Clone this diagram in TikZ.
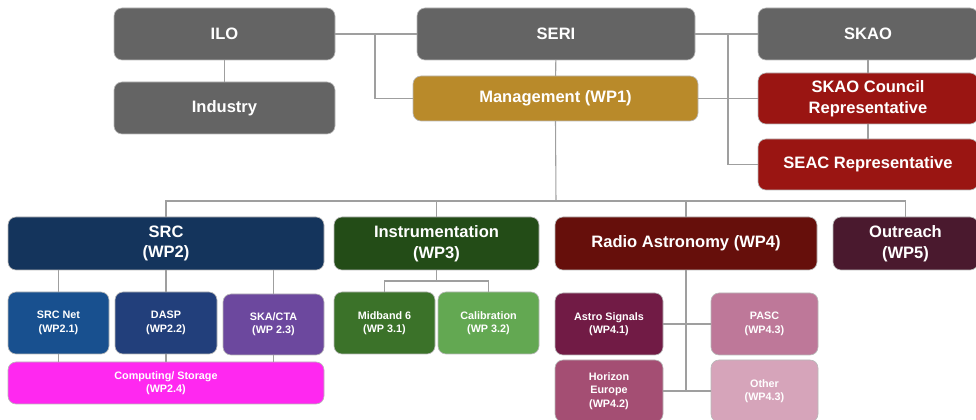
\documentclass[tikz,border=0pt]{standalone}
\usepackage{fontspec}
\setmainfont{Liberation Sans}
\usetikzlibrary{positioning, calc}

\definecolor{orggrey}{HTML}{646464}
\definecolor{mgmtgold}{HTML}{B98A2A}
\definecolor{skared}{HTML}{9A1512}
\definecolor{srcblue}{HTML}{14345C}
\definecolor{instgreen}{HTML}{234C17}
\definecolor{radiored}{HTML}{660F0B}
\definecolor{outrplum}{HTML}{4A192E}
\definecolor{netblue}{HTML}{18508F}
\definecolor{daspblue}{HTML}{223F7B}
\definecolor{ctaviolet}{HTML}{6C489E}
\definecolor{compmag}{HTML}{FF28F0}
\definecolor{midgreen}{HTML}{3B7229}
\definecolor{calgreen}{HTML}{63A852}
\definecolor{astroplum}{HTML}{711B45}
\definecolor{pascpink}{HTML}{BE7899}
\definecolor{horizpink}{HTML}{A44E73}
\definecolor{otherpink}{HTML}{D6A4BA}

\begin{document}
\begin{tikzpicture}[
  x=0.75pt, y=-0.75pt,
  box/.style   = {draw=gray!55, line width=0.5pt, rectangle,
                  rounded corners=6pt, outer sep=0pt, inner sep=2pt,
                  align=center, text=white},
  head/.style  = {box, font=\fontsize{12.4}{15.5}\selectfont\bfseries},
  sub/.style   = {box, font=\fontsize{8.1}{10}\selectfont\bfseries},
  wh/.style 2 args = {minimum width=#1*0.75pt, minimum height=#2*0.75pt},
  link/.style  = {draw=gray!75, line width=0.8pt},
]
\clip (0,0) rectangle (976,420);

%── Top level ─────────────────────────────────────────────────────────────
\node[head, fill=orggrey, wh={221}{52}]   (ilo)     at (224.5,34)  {ILO};
\node[head, fill=orggrey, wh={221}{52}]   (ind)     at (224.5,108) {Industry};
\node[head, fill=orggrey, wh={278}{52}]   (seri)    at (556,34)    {SERI};
\node[head, fill=orggrey, wh={220}{52}]   (skao)    at (868,34)    {SKAO};
\node[head, fill=mgmtgold, wh={285}{45}]  (mgmt)    at (555.5,98.5) {Management (WP1)};
\node[head, fill=skared, wh={220}{51}]    (council) at (868,98.5)
  {SKAO Council\\Representative};
\node[head, fill=skared, wh={220}{51}]    (seac)    at (868,164.5) {SEAC Representative};

%── Work packages ─────────────────────────────────────────────────────────
\node[head, fill=srcblue, wh={316}{53}]   (src)   at (166,243.5)   {SRC\\(WP2)};
\node[head, fill=instgreen, wh={205}{53}] (instr) at (436.5,243.5) {Instrumentation\\(WP3)};
\node[head, fill=radiored, wh={262}{53}]  (radio) at (686,243.5)   {Radio Astronomy (WP4)};
\node[head, fill=outrplum, wh={145}{53}]  (outr)  at (905.5,243.5) {Outreach\\(WP5)};

%── Sub packages ──────────────────────────────────────────────────────────
\node[sub, fill=netblue, wh={101}{62}]    (srcnet) at (58.5,323)  {SRC Net\\(WP2.1)};
\node[sub, fill=daspblue, wh={102}{62}]   (dasp)   at (166,323)   {DASP\\(WP2.2)};
\node[sub, fill=ctaviolet, wh={101}{61}]  (skacta) at (273.5,324.5) {SKA/CTA\\(WP 2.3)};
\node[sub, fill=compmag, wh={316}{42}]    (comp)   at (166,383)   {Computing/ Storage\\(WP2.4)};
\node[sub, fill=midgreen, wh={101}{62}]   (mid)    at (384.5,323) {Midband 6\\(WP 3.1)};
\node[sub, fill=calgreen, wh={101}{62}]   (cal)    at (488.5,323) {Calibration\\(WP 3.2)};
\node[sub, fill=astroplum, wh={108}{62}]  (astro)  at (609,324)   {Astro Signals\\(WP4.1)};
\node[sub, fill=pascpink, wh={107}{62}]   (pasc)   at (764.5,324) {PASC\\(WP4.3)};
\node[sub, fill=horizpink, wh={108}{62}]  (horiz)  at (609,391)   {Horizon\\Europe\\(WP4.2)};
\node[sub, fill=otherpink, wh={107}{62}]  (other)  at (764.5,391) {Other\\(WP4.3)};

\coordinate (jl)  at (375,34);
\coordinate (jr)  at (728,34);
\coordinate (bus) at (556,201);

%── Connectors ────────────────────────────────────────────────────────────
\draw[link] (ilo) -- (ind);
\draw[link] (ilo.east) -- (seri.west);
\draw[link] (jl) |- (mgmt.west);
\draw[link] (seri) -- (mgmt);
\draw[link] (seri.east) -- (skao.west);
\draw[link] (jr) |- (seac.west);
\draw[link] (mgmt.east) -- (council.west);
\draw[link] (skao) -- (council);
\draw[link] (council) -- (seac);

\draw[link] (mgmt.south) -- (bus);
\draw[link] (src.north) |- (bus) -| (outr.north);
\draw[link] (instr.north) -- (instr.north |- bus);
\draw[link] (radio.north) -- (radio.north |- bus);

\foreach \n in {srcnet, dasp, skacta} {
  \draw[link] (src.south -| \n.north) -- (\n.north);
  \draw[link] (\n.south) -- (comp.north -| \n.south);
}

\draw[link] (instr.south) -- ++(0,11) coordinate (ib);
\draw[link] (mid.north) |- (ib) -| (cal.north);

\draw[link] (radio.south) -- (radio.south |- horiz.east);
\draw[link] (astro.east) -- (pasc.west);
\draw[link] (horiz.east) -- (other.west);
\end{tikzpicture}
\end{document}
